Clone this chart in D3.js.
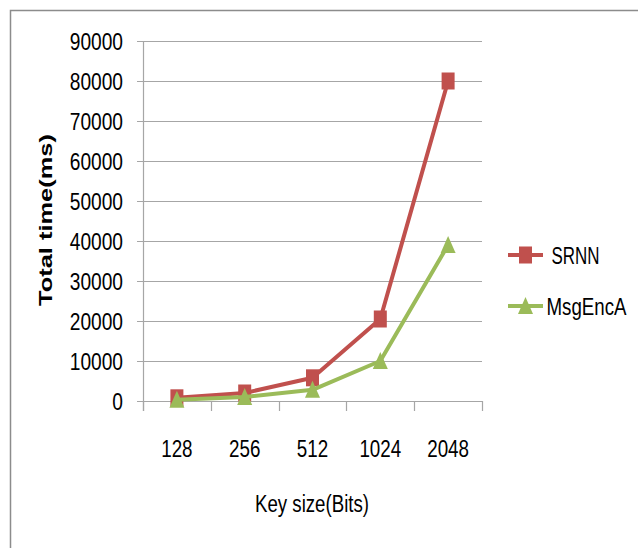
<!DOCTYPE html>
<html><head><meta charset="utf-8">
<script src="https://cdn.jsdelivr.net/npm/d3@7"></script>
<style>
html,body{margin:0;padding:0;background:#fff;}
svg{display:block;}
text{font-family:"Liberation Sans",Arial,sans-serif;fill:#000;}
</style></head>
<body>
<script>
const categories = ["128", "256", "512", "1024", "2048"];
const srnn = [800, 2000, 5800, 20500, 80000];
const msgEncA = [300, 1000, 2800, 10000, 39000];
const yTicks = [0, 10000, 20000, 30000, 40000, 50000, 60000, 70000, 80000, 90000];
const seriesNames = ["SRNN", "MsgEncA"];

const W = 638, H = 548;
const svg = d3.select("body").append("svg").attr("width", W).attr("height", H);

// horizontally condense a text to a fraction of its natural width
function condense(sel, factor) {
  sel.each(function () {
    const w = this.getComputedTextLength();
    d3.select(this).attr("textLength", w * factor).attr("lengthAdjust", "spacingAndGlyphs");
  });
}

// outer frame
svg.append("rect").attr("x", 10.5).attr("y", 10.5).attr("width", 700).attr("height", 700)
  .attr("fill", "#fff").attr("stroke", "#8c8c8c").attr("stroke-width", 1.5);

const x = d3.scaleBand().domain(categories).range([143, 482]).padding(0);
const y = d3.scaleLinear().domain([0, 90000]).range([401, 41]);
const gridColor = "#a6a6a6";

// gridlines
svg.append("g").selectAll("line").data(yTicks).join("line")
  .attr("x1", 137).attr("x2", 482)
  .attr("y1", d => Math.round(y(d)) + 0.5).attr("y2", d => Math.round(y(d)) + 0.5)
  .attr("stroke", gridColor).attr("stroke-width", 1.2);

// y axis
const yAxis = d3.axisLeft(y).tickValues(yTicks).tickSize(0).tickPadding(20).tickFormat(d3.format("d"));
const gy = svg.append("g").attr("transform", "translate(143,0)").call(yAxis);
gy.select(".domain").remove();
gy.selectAll("text").attr("font-size", 23.5).attr("dy", "0.34em")
  .attr("font-family", '"Liberation Sans",Arial,sans-serif');
condense(gy.selectAll("text"), 0.815);
svg.append("line").attr("x1", 143.5).attr("x2", 143.5).attr("y1", 41).attr("y2", 411)
  .attr("stroke", gridColor).attr("stroke-width", 1.2);

// x axis ticks at band boundaries
const bounds = categories.map(c => x(c)).concat([x.range()[1]]);
svg.append("g").selectAll("line").data(bounds).join("line")
  .attr("x1", d => Math.round(d) + 0.5).attr("x2", d => Math.round(d) + 0.5)
  .attr("y1", 401).attr("y2", 411).attr("stroke", gridColor).attr("stroke-width", 1.2);
const xl = svg.append("g").selectAll("text").data(categories).join("text")
  .attr("x", d => x(d) + x.bandwidth() / 2).attr("y", 457)
  .attr("text-anchor", "middle").attr("font-size", 23.5).text(d => d);
condense(xl, 0.8);

// axis titles
svg.append("text").attr("x", 312).attr("y", 511.5).attr("text-anchor", "middle")
  .attr("font-size", 23.5).attr("textLength", 114).attr("lengthAdjust", "spacingAndGlyphs")
  .text("Key size(Bits)");
svg.append("text").attr("transform", "translate(51.5,220) rotate(-90)")
  .attr("text-anchor", "middle").attr("font-size", 18).attr("font-weight", "bold")
  .attr("textLength", 172).attr("lengthAdjust", "spacingAndGlyphs")
  .text("Total time(ms)");

const cx = d => x(d) + x.bandwidth() / 2;
const line = d3.line().x((d, i) => cx(categories[i])).y(d => y(d));
const colors = ["#c0504d", "#9bbb59"];
const triangle = (px, py) => `M${px},${py - 9}L${px + 7.5},${py + 8}L${px - 7.5},${py + 8}Z`;

// SRNN
svg.append("path").datum(srnn).attr("d", line).attr("fill", "none")
  .attr("stroke", colors[0]).attr("stroke-width", 4).attr("stroke-linejoin", "round");
svg.append("g").selectAll("rect").data(srnn).join("rect")
  .attr("x", (d, i) => cx(categories[i]) - 6.5).attr("y", d => y(d) - 8.5)
  .attr("width", 13).attr("height", 17).attr("fill", colors[0]);

// MsgEncA
svg.append("path").datum(msgEncA).attr("d", line).attr("fill", "none")
  .attr("stroke", colors[1]).attr("stroke-width", 4).attr("stroke-linejoin", "round");
svg.append("g").selectAll("path").data(msgEncA).join("path")
  .attr("d", (d, i) => triangle(cx(categories[i]), y(d))).attr("fill", colors[1]);

// legend
const leg = svg.append("g");
const legY = [255, 306];
const legW = [48, 80];
seriesNames.forEach((name, i) => {
  leg.append("line").attr("x1", 508).attr("x2", 543).attr("y1", legY[i]).attr("y2", legY[i])
    .attr("stroke", colors[i]).attr("stroke-width", 4);
  if (i === 0) {
    leg.append("rect").attr("x", 519).attr("y", legY[i] - 8.5).attr("width", 13).attr("height", 17).attr("fill", colors[i]);
  } else {
    leg.append("path").attr("d", triangle(525.5, legY[i])).attr("fill", colors[i]);
  }
  leg.append("text")
    .attr("transform", `translate(${i === 0 ? 551.5 : 546.5},${legY[i] + 8.5}) scale(1,1.25)`)
    .attr("font-size", 19).attr("textLength", legW[i]).attr("lengthAdjust", "spacingAndGlyphs")
    .text(name);
});
</script>
</body></html>
